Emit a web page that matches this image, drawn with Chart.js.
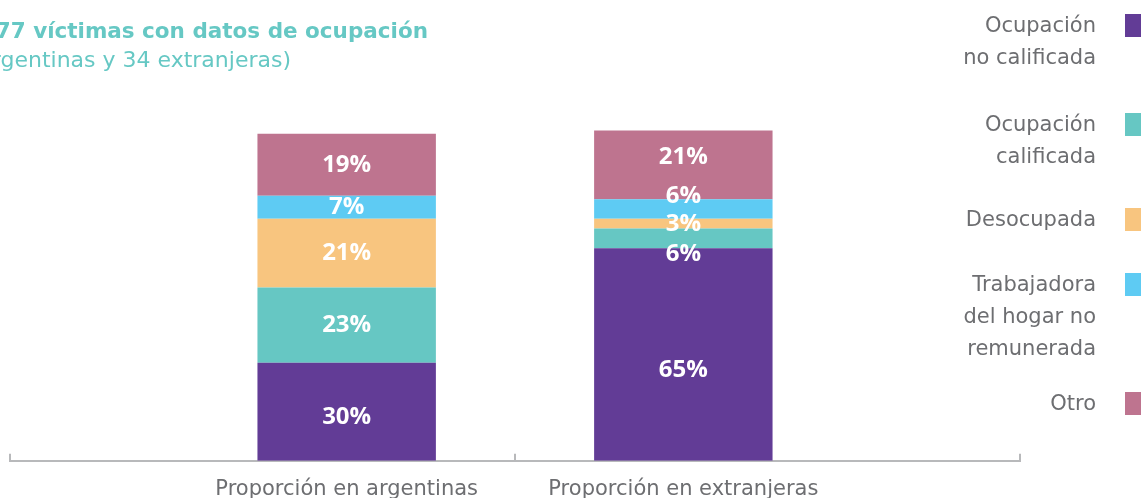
<!DOCTYPE html>
<html>
<head>
<meta charset="utf-8">
<script src="https://cdn.jsdelivr.net/npm/chart.js@4.4.0/dist/chart.umd.min.js"></script>
<style>
  html, body { margin: 0; padding: 0; background: #fff; }
  #wrap { position: relative; width: 1141px; height: 498px; }
</style>
</head>
<body>
<div id="wrap"><canvas id="myChart"></canvas></div>
<script>
// datos
const categorias = ['Proporción en argentinas', 'Proporción en extranjeras'];
const series = [
  ['Ocupación', 'no calificada'],
  ['Ocupación', 'calificada'],
  ['Desocupada'],
  ['Trabajadora', 'del hogar no', 'remunerada'],
  ['Otro']
];
const noCalificada = [30, 65];
const calificada = [23, 6];
const desocupada = [21, 3];
const hogar = [7, 6];
const otro = [19, 21];
const colores = ['#623c96', '#66c7c3', '#f8c57f', '#5ecbf3', '#be748f'];
const titulo = ['Distribución de las 77 víctimas con datos de ocupación', '(43 argentinas y 34 extranjeras)'];

const valores = [noCalificada, calificada, desocupada, hogar, otro];
const gris = '#6d6e71';
const fuente = '"DejaVu Sans"';

// ajuste de etiquetas que se pisan (px)
const ajusteEtiquetas = { '0-1': 16, '1-1': 16, '3-1': -13, '4-1': -8, '0-0': 5 };

const etiquetas = {
  id: 'etiquetas',
  afterDatasetsDraw(chart) {
    const ctx = chart.ctx;
    ctx.save();
    ctx.fillStyle = '#fff';
    ctx.font = 'bold 24px "Open Sans"';
    ctx.textAlign = 'center';
    ctx.textBaseline = 'middle';
    chart.data.datasets.forEach((ds, i) => {
      chart.getDatasetMeta(i).data.forEach((bar, j) => {
        const dy = ajusteEtiquetas[i + '-' + j] || 0;
        ctx.fillText(ds.data[j].y + '%', bar.x, (bar.y + bar.base) / 2 + dy);
      });
    });
    ctx.restore();
  }
};

const extras = {
  id: 'extras',
  afterDraw(chart) {
    const ctx = chart.ctx;
    const x = chart.scales.x;
    const bottom = chart.chartArea.bottom;
    ctx.save();
    // marcas del eje
    ctx.strokeStyle = '#b8b9bb';
    ctx.lineWidth = 2;
    [0, 1.5, 3].forEach(v => {
      const px = Math.round(x.getPixelForValue(v));
      ctx.beginPath();
      ctx.moveTo(px, bottom - 7);
      ctx.lineTo(px, bottom + 1);
      ctx.stroke();
    });
    // titulo
    ctx.fillStyle = '#66c8c4';
    ctx.textAlign = 'right';
    ctx.textBaseline = 'alphabetic';
    ctx.font = 'bold 21.5px ' + fuente;
    ctx.fillText(titulo[0], 428, 38);
    ctx.font = '22px ' + fuente;
    ctx.fillText(titulo[1], 291, 67);
    // leyenda
    const tops = [14, 113, 208, 273, 392];
    ctx.font = '21px ' + fuente;
    ctx.textBaseline = 'middle';
    series.forEach((lineas, i) => {
      ctx.fillStyle = colores[i];
      ctx.fillRect(1125, tops[i], 23, 23);
      ctx.fillStyle = gris;
      lineas.forEach((t, k) => {
        ctx.fillText(t, 1096, tops[i] + 13 + k * 32);
      });
    });
    ctx.restore();
  }
};

new Chart(document.getElementById('myChart'), {
  type: 'bar',
  data: {
    datasets: valores.map((vals, i) => ({
      label: series[i].join(' '),
      data: vals.map((v, j) => ({ x: j + 1, y: v })),
      backgroundColor: colores[i],
      borderWidth: 0,
      categoryPercentage: 1,
      barPercentage: 0.53
    }))
  },
  options: {
    responsive: true,
    maintainAspectRatio: false,
    animation: false,
    layout: { padding: { left: 10, right: 121, top: 101, bottom: -20 } },
    scales: {
      x: {
        type: 'linear',
        stacked: true,
        offset: false,
        min: 0,
        max: 3,
        afterBuildTicks: (scale) => { scale.ticks = [{ value: 1 }, { value: 2 }]; },
        grid: { display: false, drawTicks: false, offset: false },
        border: { display: true, color: '#b8b9bb', width: 2 },
        ticks: {
          callback: (v) => categorias[v - 1],
          color: gris,
          font: { family: 'DejaVu Sans', size: 21 },
          padding: 16,
          maxRotation: 0,
          autoSkip: false
        }
      },
      y: {
        stacked: true,
        display: false,
        min: 0,
        max: 110
      }
    },
    plugins: {
      legend: { display: false },
      tooltip: { enabled: false }
    }
  },
  plugins: [etiquetas, extras]
});
</script>
</body>
</html>
